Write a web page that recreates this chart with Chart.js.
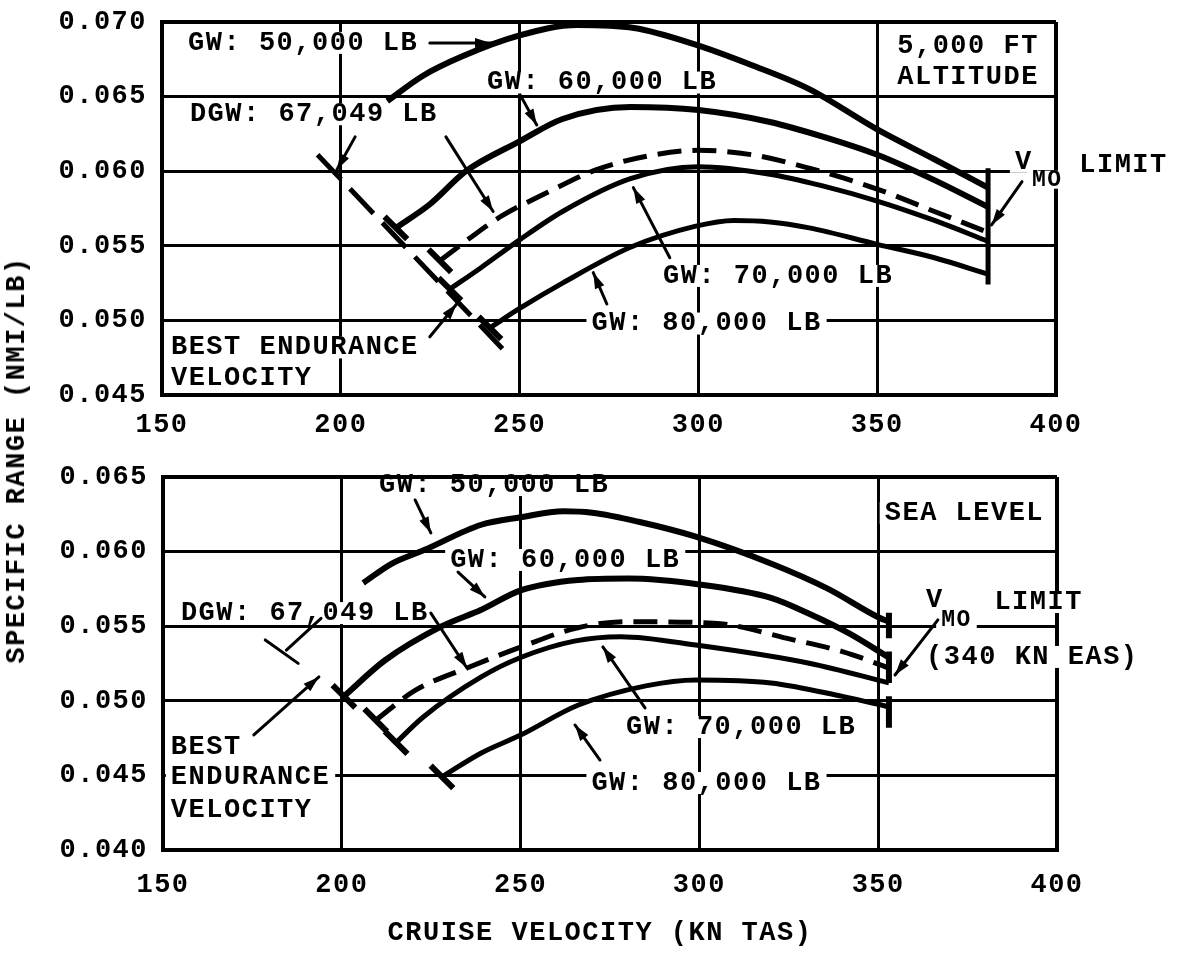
<!DOCTYPE html>
<html>
<head>
<meta charset="utf-8">
<script src="https://cdn.jsdelivr.net/npm/chart.js@4.4.1/dist/chart.umd.min.js"></script>
<style>
  html, body { margin: 0; padding: 0; background: #fff; }
  #wrap { position: relative; width: 1184px; height: 959px; overflow: hidden; background: #fff; }
  canvas { position: absolute; left: 0; }
  #topChart { top: 0; }
  #bottomChart { top: 445px; }
  .axisTitle { position: absolute; font: bold 27px "Liberation Mono", monospace; letter-spacing: 1.5px; color: #000; white-space: nowrap; }
  #yTitle { left: 17px; top: 460px; transform: translate(-50%, -50%) rotate(-90deg); }
  #xTitle { left: 600px; top: 933px; transform: translate(-50%, -50%); }
</style>
</head>
<body>
<div id="wrap">
  <canvas id="topChart" width="1184" height="445"></canvas>
  <canvas id="bottomChart" width="1184" height="514"></canvas>
  <div id="yTitle" class="axisTitle">SPECIFIC RANGE (NMI/LB)</div>
  <div id="xTitle" class="axisTitle">CRUISE VELOCITY (KN TAS)</div>
</div>
<script>
/* ===== DATA ===== */
const xTicks = [150, 200, 250, 300, 350, 400];
const topYTicks = [0.045, 0.050, 0.055, 0.060, 0.065, 0.070];
const botYTicks = [0.040, 0.045, 0.050, 0.055, 0.060, 0.065];

// 5,000 ft altitude  [kn TAS, nmi/lb]
const alt50k = [[213,0.0647],[223,0.0664],[234,0.0677],[250,0.0691],[266,0.0698],[282,0.0696],[299,0.0685],[315,0.0671],[331,0.0655],[350,0.0628],[366,0.0608],[381,0.0589]];
const alt60k = [[215.4,0.0562],[225,0.0578],[235,0.0600],[250,0.0620],[262,0.0635],[281,0.0643],[300,0.0641],[320,0.0633],[335,0.0623],[350,0.0611],[366,0.0594],[381,0.0576]];
const altDgw = [[227.7,0.0540],[236,0.0555],[245,0.0570],[258,0.0586],[271.5,0.0601],[285.5,0.0610],[300,0.0614],[315,0.0611],[331,0.0602],[350,0.0588],[366,0.0573],[381,0.0559]];
const alt70k = [[230.5,0.0521],[239,0.0535],[250,0.0554],[262,0.0573],[281,0.0595],[300,0.0603],[320,0.0598],[335,0.0590],[350,0.0580],[366,0.0567],[381,0.0553]];
const alt80k = [[241.7,0.0495],[250,0.0508],[262,0.0525],[281,0.0549],[299,0.0563],[310,0.0567],[320,0.0566],[331,0.0562],[350,0.0551],[366,0.0542],[381,0.0531]];
const altEndurance = [[193.5,0.0611],[245.2,0.0481]];
const altVmo = [[381,0.0602],[381,0.0524]];

// sea level
const sl50k = [[206,0.0579],[214,0.0592],[223,0.0601],[239,0.0618],[250,0.0623],[262,0.0627],[270,0.0626],[283,0.0620],[299,0.0610],[320,0.0592],[336,0.0575],[350,0.0556],[353,0.0553]];
const sl60k = [[200.6,0.0503],[212,0.0527],[228,0.0550],[239,0.0561],[250,0.0574],[266,0.0581],[280,0.0582],[300,0.0578],[320,0.0569],[331,0.0558],[342,0.0545],[353,0.0529]];
const slDgw = [[209.5,0.0487],[220.5,0.0507],[235,0.0522],[250,0.0536],[266,0.0549],[280,0.0553],[304,0.0552],[326,0.0541],[340,0.0533],[353,0.0522]];
const sl70k = [[215.2,0.0472],[222.7,0.0489],[239,0.0516],[250,0.0529],[265,0.0540],[278,0.0543],[300,0.0537],[331,0.0525],[353,0.0512]];
const sl80k = [[228,0.0449],[239,0.0465],[250,0.0477],[266,0.0497],[285,0.0510],[299,0.0514],[320,0.0512],[340,0.0503],[353,0.0496]];
const slVmo50 = [[353,0.0559],[353,0.0542]];
const slVmoMid = [[353,0.0533],[353,0.0512]];
const slVmo80 = [[353,0.0503],[353,0.0482]];

/* ===== NOTES (labels + arrows, in data units) ===== */
const notes = {
  topChart: {
    labels: [
      ['GW: 50,000 LB', 157.3, 0.0686],
      ['GW: 60,000 LB', 240.9, 0.06594],
      ['DGW: 67,049 LB', 157.8, 0.06382],
      ['BEST ENDURANCE', 152.5, 0.04819],
      ['VELOCITY', 152.5, 0.04613],
      ['GW: 70,000 LB', 290.1, 0.05298],
      ['GW: 80,000 LB', 270.1, 0.04979],
      ['5,000 FT', 375.4, 0.0684, 'center'],
      ['ALTITUDE', 375.4, 0.06628, 'center'],
      ['V', 388.5, 0.06063],
      ['MO', 393.3, 0.05943, 'left', 'sub'],
      ['LIMIT', 406.5, 0.06043]
    ],
    arrows: [
      [224.9, 0.0686, 242, 0.0686, true],
      [250.2, 0.0651, 254.8, 0.0631, true],
      [204, 0.0623, 198.9, 0.0601, true],
      [229.4, 0.0623, 242.6, 0.0573, true],
      [224.9, 0.0489, 232.4, 0.0511, true],
      [292, 0.0542, 281.8, 0.0589, true],
      [274.4, 0.0511, 270.6, 0.0532, true],
      [390.5, 0.0593, 382, 0.0564, true]
    ]
  },
  bottomChart: {
    labels: [
      ['GW: 50,000 LB', 210.4, 0.06446],
      ['GW: 60,000 LB', 230.3, 0.05944],
      ['DGW: 67,049 LB', 155, 0.05588],
      ['BEST', 152.2, 0.0469],
      ['ENDURANCE', 152.2, 0.0449],
      ['VELOCITY', 152.2, 0.04268],
      ['GW: 70,000 LB', 279.5, 0.04824],
      ['GW: 80,000 LB', 269.8, 0.04449],
      ['SEA LEVEL', 374.1, 0.06259, 'center'],
      ['V', 363.4, 0.05676],
      ['MO', 367.6, 0.05542, 'left', 'sub'],
      ['LIMIT', 382.5, 0.05662],
      ['(340 KN EAS)', 363.4, 0.05294]
    ],
    arrows: [
      [220.5, 0.06346, 224.9, 0.06125, true],
      [232.5, 0.05863, 240, 0.05696, true],
      [224.9, 0.05588, 235, 0.0522, true],
      [194.2, 0.05553, 184.5, 0.0534, false],
      [178.6, 0.05408, 187.8, 0.05251, false],
      [175.4, 0.04771, 193.6, 0.0516, true],
      [284.8, 0.04952, 273, 0.05361, true],
      [272.2, 0.04603, 265.2, 0.04838, true],
      [366.7, 0.05542, 354.7, 0.05173, true]
    ]
  }
};

const FAMILY = '"Liberation Mono", monospace';
const LABEL_FONT = 'bold 27px ' + FAMILY;
const SUB_FONT = 'bold 23px ' + FAMILY;

function px(chart, v, r) {
  return { x: chart.scales.x.getPixelForValue(v), y: chart.scales.y.getPixelForValue(r) };
}

/* ===== PLUGIN: text labels with white boxes, arrows ===== */
const notesPlugin = {
  id: 'notes',
  beforeDraw(chart) {
    chart.ctx.letterSpacing = '1.5px';
  },
  beforeDatasetsDraw(chart) {
    const n = notes[chart.canvas.id];
    const a = chart.chartArea;
    const ctx = chart.ctx;
    ctx.save();
    ctx.beginPath();
    ctx.rect(0, a.top + 3, chart.width, a.bottom - a.top - 6);
    ctx.clip();
    ctx.fillStyle = '#fff';
    n.labels.forEach(l => {
      ctx.font = l[4] === 'sub' ? SUB_FONT : LABEL_FONT;
      const p = px(chart, l[1], l[2]);
      const w = ctx.measureText(l[0]).width;
      const x0 = l[3] === 'center' ? p.x - w / 2 : p.x;
      const h = l[4] === 'sub' ? 9 : 11;
      ctx.fillRect(x0 - 5, p.y - h, w + 10, 2 * h);
    });
    ctx.restore();
  },
  afterDatasetsDraw(chart) {
    const n = notes[chart.canvas.id];
    const ctx = chart.ctx;
    ctx.save();
    ctx.setLineDash([]);
    ctx.strokeStyle = '#000';
    ctx.fillStyle = '#000';
    ctx.lineWidth = 3;
    ctx.lineCap = 'round';
    n.arrows.forEach(ar => {
      const p = px(chart, ar[0], ar[1]);
      const q = px(chart, ar[2], ar[3]);
      ctx.beginPath();
      ctx.moveTo(p.x, p.y);
      ctx.lineTo(q.x, q.y);
      ctx.stroke();
      if (ar[4]) {
        const ang = Math.atan2(q.y - p.y, q.x - p.x);
        const c = Math.cos(ang), s = Math.sin(ang);
        ctx.beginPath();
        ctx.moveTo(q.x, q.y);
        ctx.lineTo(q.x - 16 * c + 5 * s, q.y - 16 * s - 5 * c);
        ctx.lineTo(q.x - 16 * c - 5 * s, q.y - 16 * s + 5 * c);
        ctx.closePath();
        ctx.fill();
      }
    });
    ctx.textBaseline = 'middle';
    n.labels.forEach(l => {
      ctx.font = l[4] === 'sub' ? SUB_FONT : LABEL_FONT;
      ctx.textAlign = l[3] === 'center' ? 'center' : 'left';
      const p = px(chart, l[1], l[2]);
      ctx.fillText(l[0], p.x, p.y);
    });
    ctx.restore();
  }
};

/* ===== CHARTS ===== */
function curve(pts, o) {
  o = o || {};
  return {
    data: pts.map(p => ({ x: p[0], y: p[1] })),
    borderColor: '#000',
    borderWidth: o.width || 6,
    borderDash: o.dash || [],
    borderCapStyle: 'butt',
    cubicInterpolationMode: o.straight ? 'default' : 'monotone',
    tension: 0,
    fill: false,
    pointStyle: 'line',
    pointRotation: 45,
    pointBorderColor: '#000',
    pointBackgroundColor: '#000',
    pointBorderWidth: 6,
    pointRadius: c => (c.dataIndex === 0 ? (o.bar || 0) : 0)
  };
}

function edgeWidth(min, max) {
  return c => (c.tick && (Math.abs(c.tick.value - min) < 1e-9 || Math.abs(c.tick.value - max) < 1e-9)) ? 4 : 3;
}

function makeChart(id, yTicks, sets, padTop, padRight, yWidth, xAxisH, xPad) {
  const yMin = yTicks[0], yMax = yTicks[yTicks.length - 1];
  const tickFont = { family: FAMILY, size: 27, weight: 'bold' };
  return new Chart(document.getElementById(id), {
    type: 'line',
    data: { datasets: sets },
    options: {
      responsive: false,
      animation: false,
      devicePixelRatio: 1,
      events: [],
      layout: { padding: { top: padTop, right: padRight, bottom: 0, left: 0 } },
      scales: {
        x: {
          type: 'linear', min: 150, max: 400,
          afterBuildTicks: s => { s.ticks = xTicks.map(v => ({ value: v })); },
          afterFit: s => { s.height = xAxisH; s.paddingLeft = 0; s.paddingRight = 0; },
          ticks: { color: '#000', padding: xPad, font: tickFont, maxRotation: 0, autoSkip: false, callback: v => String(v) },
          grid: { color: '#000', lineWidth: edgeWidth(150, 400), drawTicks: false },
          border: { color: '#000', width: 4 }
        },
        y: {
          type: 'linear', min: yMin, max: yMax,
          afterBuildTicks: s => { s.ticks = yTicks.map(v => ({ value: v })); },
          afterFit: s => { s.width = yWidth; s.paddingTop = 0; s.paddingBottom = 0; },
          ticks: { color: '#000', padding: 15, font: tickFont, autoSkip: false, callback: v => Number(v).toFixed(3) },
          grid: { color: '#000', lineWidth: edgeWidth(yMin, yMax), drawTicks: false },
          border: { color: '#000', width: 4 }
        }
      },
      plugins: { legend: { display: false }, tooltip: { enabled: false } }
    },
    plugins: [notesPlugin]
  });
}

window.addEventListener('load', () => {
  makeChart('topChart', topYTicks, [
    curve(alt50k, { width: 6 }),
    curve(alt60k, { width: 6, bar: 16 }),
    curve(altDgw, { width: 5, dash: [24, 11], bar: 16 }),
    curve(alt70k, { width: 5, bar: 16 }),
    curve(alt80k, { width: 5, bar: 16 }),
    curve(altEndurance, { width: 5, dash: [34, 13], straight: true }),
    curve(altVmo, { width: 5, straight: true })
  ], 19, 128, 162, 50, 14);

  makeChart('bottomChart', botYTicks, [
    curve(sl50k, { width: 6 }),
    curve(sl60k, { width: 6, bar: 16 }),
    curve(slDgw, { width: 5, dash: [24, 11], bar: 16 }),
    curve(sl70k, { width: 5, bar: 16 }),
    curve(sl80k, { width: 5, bar: 16 }),
    curve(slVmo50, { width: 6, straight: true }),
    curve(slVmoMid, { width: 6, straight: true }),
    curve(slVmo80, { width: 6, straight: true })
  ], 32, 127, 163, 109, 19);
});
</script>
</body>
</html>
